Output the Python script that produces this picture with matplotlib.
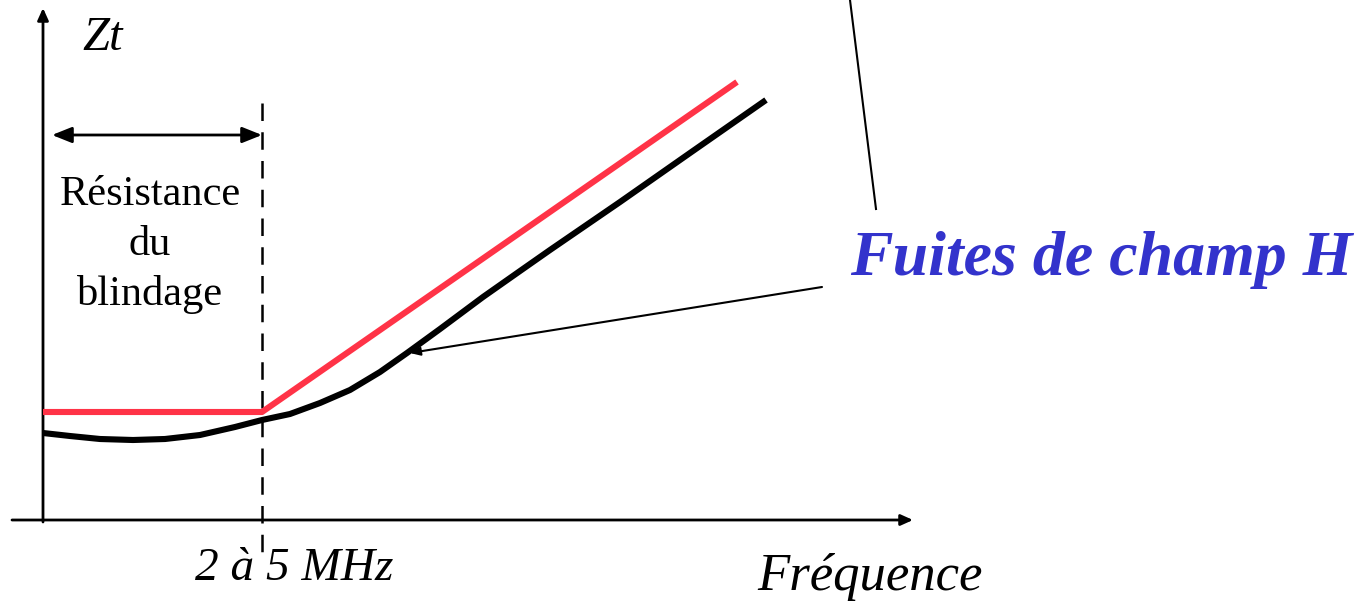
import matplotlib
matplotlib.use('Agg')
import matplotlib.pyplot as plt

# Schematic coordinates (same scale as the figure, y pointing down)
# Red asymptote: flat resistance part then straight rise
red_x = [43, 262, 737]
red_y = [412, 412, 82]

# Black measured Zt curve
black_x = [43, 70, 100, 133, 165, 200, 235, 262, 290, 320, 350, 380, 407,
           440, 483, 520, 550, 620, 690, 766]
black_y = [433, 436, 439, 440, 439, 435, 427, 420, 414, 403, 390, 372, 353,
           329, 297, 271, 250, 202, 153, 100]

corner_f = 262  # 2 à 5 MHz
resistance_lines = ['Résistance', 'du', 'blindage']
red = '#ff3347'
blue = '#3333cc'

fig = plt.figure(figsize=(13.61, 6.05), dpi=100)
ax = fig.add_axes([0, 0, 1, 1])
ax.set_xlim(0, 1361)
ax.set_ylim(605, 0)
ax.axis('off')

serif = ['Liberation Serif', 'DejaVu Serif']

# axes with arrows
ax.annotate('', xy=(43, 8), xytext=(43, 522),
            arrowprops=dict(arrowstyle='-|>,head_length=0.6,head_width=0.27',
                            mutation_scale=12, color='black', lw=2,
                            shrinkA=0, shrinkB=0))
ax.annotate('', xy=(913, 520), xytext=(12, 520),
            arrowprops=dict(arrowstyle='-|>,head_length=0.6,head_width=0.27',
                            mutation_scale=12, color='black', lw=2,
                            shrinkA=0, shrinkB=0))

# dashed corner frequency
ax.plot([corner_f, corner_f], [103, 555], color='black', lw=1.8,
        dashes=(7, 4.5))

# double arrow for the resistance zone
ax.annotate('', xy=(52, 135), xytext=(corner_f, 135),
            arrowprops=dict(arrowstyle='<|-|>,head_length=1.0,head_width=0.4',
                            mutation_scale=12, color='black', lw=2,
                            shrinkA=0, shrinkB=0))

# curves
ax.plot(red_x, red_y, color=red, lw=4.4, solid_capstyle='butt', zorder=3)
ax.plot(black_x, black_y, color='black', lw=4.4, solid_capstyle='butt',
        solid_joinstyle='round', zorder=3)

# leader lines
ax.plot([850, 876], [0, 209], color='black', lw=1.5)
ax.annotate('', xy=(410, 353), xytext=(822, 287),
            arrowprops=dict(arrowstyle='-|>,head_length=0.6,head_width=0.25',
                            mutation_scale=10, color='black', lw=1.5,
                            shrinkA=0, shrinkB=0))

# texts
ax.text(82, 50, 'Zt', fontsize=35, style='italic', family=serif,
        va='baseline', ha='left')
for i, line in enumerate(resistance_lines):
    ax.text(150, 205 + i * 50, line, fontsize=30.5, family=serif,
            va='baseline', ha='center')
ax.text(195, 580, '2 à 5 MHz', fontsize=34, style='italic', family=serif,
        va='baseline', ha='left')
ax.text(757, 590, 'Fréquence', fontsize=38, style='italic', family=serif,
        va='baseline', ha='left')
ax.text(850, 275, 'Fuites de champ H', fontsize=46, style='italic',
        weight='bold', color=blue, family=serif, va='baseline', ha='left')

fig.savefig('out.png', dpi=100)
